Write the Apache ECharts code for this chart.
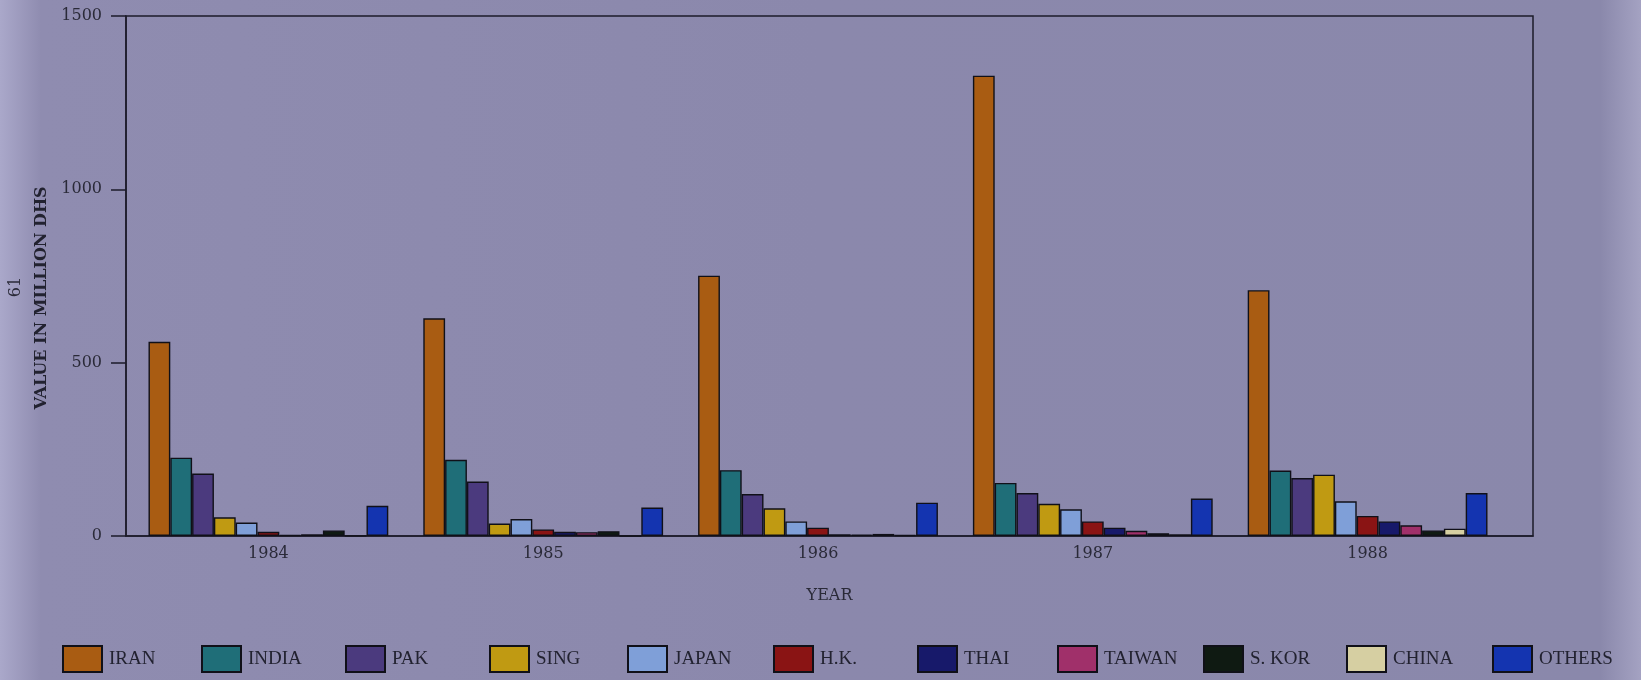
<!DOCTYPE html>
<html>
<head>
<meta charset="utf-8">
<script src="https://cdn.jsdelivr.net/npm/echarts@6/dist/echarts.min.js"></script>
<style>html,body{margin:0;padding:0;}#c{width:1641px;height:680px;}</style>
</head>
<body>
<div id="c"></div>
<script>
const years = ['1984', '1985', '1986', '1987', '1988'];
const yTicks = [0, 500, 1000, 1500];
const seriesNames = ['IRAN', 'INDIA', 'PAK', 'SING', 'JAPAN', 'H.K.', 'THAI', 'TAIWAN', 'S. KOR', 'CHINA', 'OTHERS'];
const IRAN = [560, 628, 751, 1328, 709];
const INDIA = [226, 220, 190, 153, 189];
const PAK = [180, 157, 121, 124, 167];
const SING = [54, 36, 80, 93, 177];
const JAPAN = [39, 49, 42, 77, 100];
const HK = [12, 19, 24, 42, 58];
const THAI = [3, 12, 5, 24, 42];
const TAIWAN = [5, 11, 4, 15, 31];
const SKOR = [16, 14, 6, 8, 16];
const CHINA = [1, 0, 3, 5, 21];
const OTHERS = [87, 82, 96, 108, 124];
const values = [IRAN, INDIA, PAK, SING, JAPAN, HK, THAI, TAIWAN, SKOR, CHINA, OTHERS];
const colors = ['#a95c12', '#1f6e78', '#4b3a7e', '#c09a12', '#7f9fd8', '#8a1414', '#17196a', '#a0306a', '#0f1a12', '#d6cfa2', '#1434b0'];
const legendLeft = [62, 201, 345, 489, 627, 773, 917, 1057, 1203, 1346, 1492];

const chart = echarts.init(document.getElementById('c'));
const serif = 'DejaVu Serif';
const ink = '#1c1b2a';

const option = {
  backgroundColor: {
    type: 'linear', x: 0, y: 0, x2: 1, y2: 0,
    colorStops: [
      { offset: 0, color: '#aaa8ca' },
      { offset: 0.025, color: '#8f8cb0' },
      { offset: 0.5, color: '#8b88ac' },
      { offset: 0.975, color: '#8a88ab' },
      { offset: 1, color: '#a4a2c2' }
    ]
  },
  animation: false,
  grid: [
    { left: 131, width: 1374, top: 16, height: 520 },
    { left: 126, width: 1407, top: 16, height: 520, show: true, borderColor: ink, borderWidth: 1.5, backgroundColor: 'transparent', z: 1 }
  ],
  xAxis: [
    {
      gridIndex: 0, type: 'category', data: years,
      axisLine: { show: false }, axisTick: { show: false },
      axisLabel: { margin: 10, fontFamily: serif, fontSize: 16, color: '#2a2a38' }
    },
    {
      gridIndex: 1, type: 'category', data: years,
      axisLine: { show: true, lineStyle: { color: ink, width: 1.5 } },
      axisTick: { show: false }, axisLabel: { show: false },
      name: 'YEAR', nameLocation: 'middle', nameGap: 52,
      nameTextStyle: { fontFamily: serif, fontSize: 16, color: '#2a2a38' }
    }
  ],
  yAxis: [
    { gridIndex: 0, type: 'value', min: 0, max: 1500, interval: 500, show: false, splitLine: { show: false } },
    {
      gridIndex: 1, type: 'value', min: yTicks[0], max: yTicks[yTicks.length - 1], interval: 500,
      axisLine: { show: true, lineStyle: { color: ink, width: 1.5 } },
      axisTick: { show: true, length: 15, lineStyle: { color: ink, width: 1.5 } },
      axisLabel: { margin: 24, fontFamily: serif, fontSize: 16, color: '#2a2a38', formatter: v => String(v) },
      splitLine: { show: false }
    }
  ],
  legend: seriesNames.map((n, i) => ({
    data: [n], left: legendLeft[i], top: 645, padding: 0,
    itemWidth: 39, itemHeight: 26, icon: 'rect',
    textStyle: { fontFamily: 'Liberation Serif', fontSize: 19, color: '#222230', padding: [4, 0, 0, 2] }
  })),
  series: seriesNames.map((n, i) => ({
    name: n, type: 'bar', xAxisIndex: 0, yAxisIndex: 0,
    data: values[i], barWidth: 21.8, barGap: '0%',
    itemStyle: { color: colors[i], borderColor: '#101018', borderWidth: 1.4 },
    z: 3
  })),
  graphic: [
    {
      type: 'text', x: 42, y: 298, rotation: Math.PI / 2,
      style: { text: 'VALUE IN MILLION DHS', font: 'bold 16px "DejaVu Serif"', fill: '#222230', align: 'center', verticalAlign: 'middle' }
    },
    {
      type: 'text', x: 16, y: 287, rotation: Math.PI / 2,
      style: { text: '61', font: '16px "DejaVu Serif"', fill: '#2a2a38', align: 'center', verticalAlign: 'middle' }
    }
  ]
};
chart.setOption(option);
</script>
</body>
</html>
